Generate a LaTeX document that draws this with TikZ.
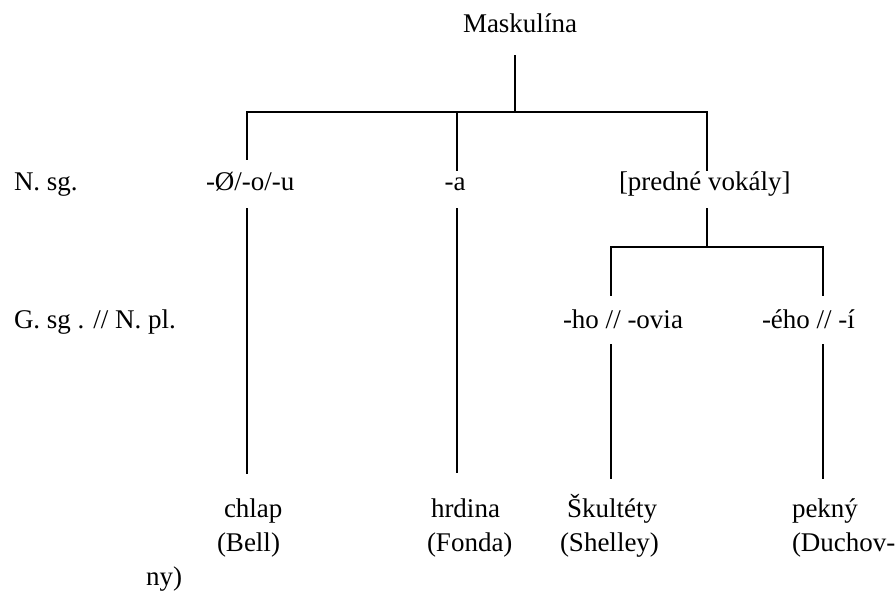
\documentclass[tikz,border=0pt]{standalone}
\usepackage{fontspec}
\setmainfont{Liberation Serif}
\begin{document}
\begin{tikzpicture}[x=1pt,y=-1pt,
  lbl/.style={anchor=base west,inner sep=0pt,outer sep=0pt,font=\fontsize{27}{32}\selectfont},
  clbl/.style={anchor=base,inner sep=0pt,outer sep=0pt,font=\fontsize{27}{32}\selectfont},
  ln/.style={line width=1.6pt,line cap=rect}]
\useasboundingbox (0,0) rectangle (895,591);
% texts
\node[lbl] (mask) at (463,33) {Maskulína};
\node[lbl] (nsg) at (14,190) {N. sg.};
\node[lbl] (zero) at (206,190) {-Ø/-o/-u};
\node[clbl] (a) at (455,190) {-a};
\node[lbl] (pred) at (619,190) {[predné vokály]};
\node[lbl] (gsg) at (14,328) {G. sg . // N. pl.};
\node[lbl] (ho) at (563,328) {-ho // -ovia};
\node[lbl] (eho) at (762,328) {-ého // -í};
\node[lbl] (chlap) at (224,517) {chlap};
\node[lbl] (bell) at (217,551) {(Bell)};
\node[lbl] (ny) at (146,585) {ny)};
\node[lbl] (hrdina) at (431,517) {hrdina};
\node[lbl] (fonda) at (427,551) {(Fonda)};
\node[lbl] (skul) at (567,517) {Škultéty};
\node[lbl] (shel) at (560,551) {(Shelley)};
\node[lbl] (pekny) at (792,517) {pekný};
\node[lbl] (duch) at (792,551) {(Duchov-};
% junction coordinates
\coordinate (t0) at (515,56);
\coordinate (t1) at (515,112);
\coordinate (hl) at (247,112);
\coordinate (hm) at (457,112);
\coordinate (hr) at (707,112);
\coordinate (zl) at (247,159);
\coordinate (am) at (457,170);
\coordinate (pr) at (707,170);
\coordinate (zl2) at (247,209);
\coordinate (zlb) at (247,473);
\coordinate (am2) at (457,209);
\coordinate (amb) at (457,472);
\coordinate (p2) at (707,209);
\coordinate (p3) at (707,247);
\coordinate (sl) at (611,247);
\coordinate (sr) at (823,247);
\coordinate (sl2) at (611,295);
\coordinate (sr2) at (823,295);
\coordinate (hob) at (611,345);
\coordinate (hoe) at (611,478);
\coordinate (ehb) at (823,345);
\coordinate (ehe) at (823,478);
% lines
\draw[ln] (t0) -- (t1);
\draw[ln] (hl) -- (hr);
\draw[ln] (hl) -- (zl);
\draw[ln] (hm) -- (am);
\draw[ln] (hr) -- (pr);
\draw[ln] (zl2) -- (zlb);
\draw[ln] (am2) -- (amb);
\draw[ln] (p2) -- (p3);
\draw[ln] (sl) -- (sr);
\draw[ln] (sl) -- (sl2);
\draw[ln] (sr) -- (sr2);
\draw[ln] (hob) -- (hoe);
\draw[ln] (ehb) -- (ehe);
\end{tikzpicture}
\end{document}
